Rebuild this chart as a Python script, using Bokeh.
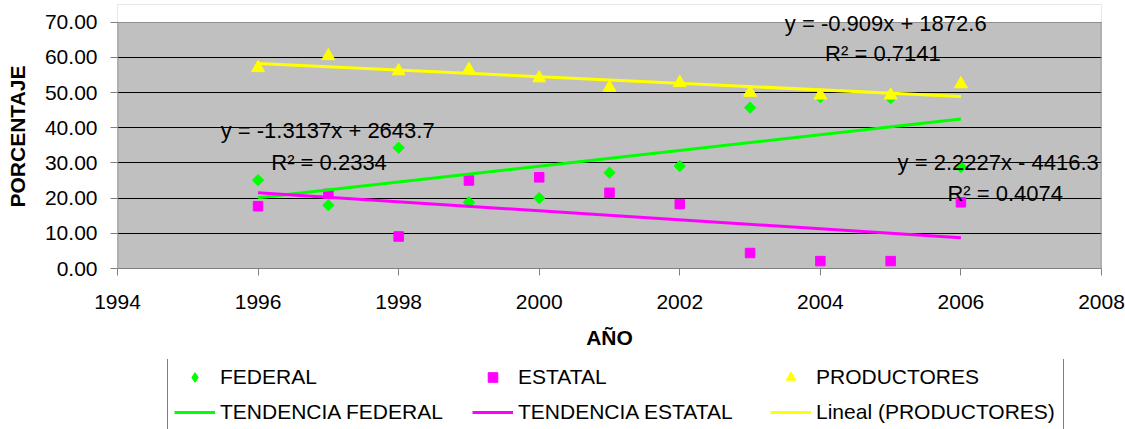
import numpy as np
from bokeh.plotting import figure
from bokeh.layouts import column
from bokeh.models import (Legend, LegendItem, Label, FixedTicker,
                          NumeralTickFormatter, Range1d, BoxAnnotation)
from bokeh.embed import file_html
from bokeh.resources import INLINE

# ---- data ----
years = [1996, 1997, 1998, 1999, 2000, 2001, 2002, 2003, 2004, 2005, 2006]
federal = [25.1, 18.0, 34.3, 18.8, 20.0, 27.2, 29.1, 45.7, 48.7, 48.4, 28.8]
estatal = [17.7, 21.2, 9.1, 25.0, 25.9, 21.5, 18.3, 4.4, 2.1, 2.1, 18.8]
productores = [57.0, 60.4, 56.1, 56.5, 54.1, 51.4, 52.8, 50.0, 49.2, 49.2, 52.4]
x_ticks = [1994, 1996, 1998, 2000, 2002, 2004, 2006, 2008]
y_ticks = [0, 10, 20, 30, 40, 50, 60, 70]
eq_texts = ["y = -1.3137x + 2643.7", "R\u00b2 = 0.2334",
            "y = -0.909x + 1872.6", "R\u00b2 = 0.7141",
            "y = 2.2227x - 4416.3", "R\u00b2 = 0.4074"]
legend_labels = ["FEDERAL", "ESTATAL", "PRODUCTORES",
                 "TENDENCIA FEDERAL", "TENDENCIA ESTATAL", "Lineal (PRODUCTORES)"]

GREEN, MAGENTA, YELLOW = "#00FF00", "#FF00FF", "#FFFF00"
FONT = "Liberation Sans"
BORDER = "#808080"
X0, X1, Y0, Y1 = x_ticks[0], x_ticks[-1], y_ticks[0], y_ticks[-1]

p = figure(width=1125, height=359, output_backend="svg", toolbar_location=None,
           x_range=Range1d(X0, X1), y_range=Range1d(Y0, Y1 + 5),
           min_border_left=117, min_border_right=24, min_border_top=4,
           min_border_bottom=91,
           background_fill_color="#C0C0C0", border_fill_color="white",
           outline_line_color=None)

# white margin above 70 (room for the top equation text)
p.add_layout(BoxAnnotation(bottom=Y1, fill_color="white", fill_alpha=1.0,
                           line_color=None))

p.xgrid.grid_line_color = None
p.ygrid.grid_line_color = "#000000"
p.ygrid.grid_line_width = 1
p.ygrid.ticker = FixedTicker(ticks=y_ticks[:-1])

for ax in (p.xaxis[0], p.yaxis[0]):
    ax.axis_line_color = BORDER
    ax.major_tick_line_color = BORDER
    ax.minor_tick_line_color = None
    ax.major_tick_out = 7
    ax.major_tick_in = 0
    ax.major_label_text_font = FONT
    ax.major_label_text_font_size = "21px"
    ax.major_label_text_color = "black"
    ax.axis_label_text_font = FONT
    ax.axis_label_text_font_size = "21px"
    ax.axis_label_text_font_style = "bold"
    ax.axis_label_text_color = "black"

p.yaxis.axis_line_color = None
p.xaxis.ticker = FixedTicker(ticks=x_ticks)
p.yaxis.ticker = FixedTicker(ticks=y_ticks)
p.yaxis.formatter = NumeralTickFormatter(format="0.00")
p.xaxis.axis_label = "AÑO"
p.yaxis.axis_label = "PORCENTAJE"
p.xaxis.major_label_standoff = 19
p.xaxis.axis_label_standoff = 14
p.yaxis.major_label_standoff = 13
p.yaxis.axis_label_standoff = 13

# plot-area border (left, top, right)
p.segment(x0=[X0, X0, X1], y0=[Y0, Y1, Y0], x1=[X0, X1, X1], y1=[Y1, Y1, Y1],
          line_color=BORDER, line_width=1.5)

marker_styles = [
    dict(marker="square", angle=np.pi / 4, size=8, fill_color=GREEN, line_color=GREEN),
    dict(marker="square", size=9.5, fill_color=MAGENTA, line_color=MAGENTA),
    dict(marker="triangle", size=13, fill_color=YELLOW, line_color=YELLOW),
]
key_styles = [
    dict(marker="diamond", size=12, fill_color=GREEN, line_color=GREEN),
    dict(marker="square", size=9, fill_color=MAGENTA, line_color=MAGENTA),
    dict(marker="triangle", size=11, fill_color=YELLOW, line_color=YELLOW),
]
line_colors = [GREEN, MAGENTA, YELLOW]
series = [federal, estatal, productores]

# markers
for vals, st in zip(series, marker_styles):
    p.scatter(years, vals, **st)

# linear trend lines (least squares on the data)
xs = np.array(years, dtype=float)
ends = np.array([xs[0], xs[-1]])
def trend(vals):
    m, b = np.polyfit(xs, np.array(vals, dtype=float), 1)
    return m * ends + b

for vals, c in zip(series, line_colors):
    p.line(ends, trend(vals), line_color=c, line_width=3)

# equation labels
label_pos = [(1996.99, 39.2), (1997.01, 30.2), (2004.93, 69.5),
             (2004.89, 61.0), (2006.53, 30.0), (2006.63, 21.2)]
for (lx, ly), t in zip(label_pos, eq_texts):
    p.add_layout(Label(x=lx, y=ly, text=t, text_align="center",
                       text_baseline="middle", text_font=FONT,
                       text_font_size="22px", text_color="black"))

# ---- legend strip below the chart (its frame is aligned with the chart's) ----
q = figure(width=1125, height=70, output_backend="svg", toolbar_location=None,
           x_range=Range1d(0, 1), y_range=Range1d(0, 1),
           x_axis_location=None, y_axis_location=None,
           min_border=0, min_border_left=0, min_border_right=0,
           min_border_top=0, min_border_bottom=0,
           background_fill_color="white", border_fill_color="white",
           outline_line_color=None)
q.grid.visible = False

# same series drawn off-screen in the strip, only used as legend keys
keys = [q.scatter(years, vals, **st) for vals, st in zip(series, key_styles)]
keys += [q.line(ends, trend(vals), line_color=c, line_width=3)
         for vals, c in zip(series, line_colors)]
items = [LegendItem(label=lab, renderers=[r]) for lab, r in zip(legend_labels, keys)]

legend = Legend(
    items=items, orientation="horizontal", ncols=3,
    location=(50, -2),
    label_text_font=FONT, label_text_font_size="21px",
    label_text_color="black",
    glyph_width=41, glyph_height=24, label_height=24, label_width=241,
    label_standoff=5, spacing=11, padding=6,
    border_line_color="#000000", border_line_width=1,
    background_fill_color="white", background_fill_alpha=1.0,
)
q.add_layout(legend, "center")

layout = column(p, q, spacing=0)
open("out.html", "w").write(file_html(layout, INLINE))
